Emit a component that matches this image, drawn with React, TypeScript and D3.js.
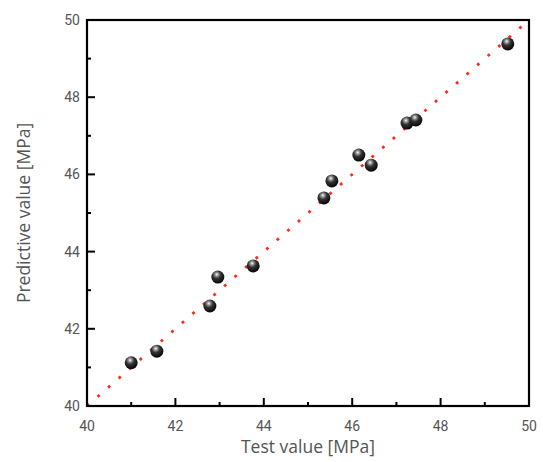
import React from "react";
import * as d3 from "d3";

// measured vs predicted strength (MPa)
const testValues = [41.0, 41.58, 42.78, 42.96, 43.76, 45.36, 45.54, 46.15, 46.43, 47.24, 47.44, 49.52];
const predValues = [41.12, 41.42, 42.59, 43.34, 43.63, 45.39, 45.83, 46.5, 46.24, 47.33, 47.41, 49.38];
const majorTicks = [40, 42, 44, 46, 48, 50];
const minorTicks = [41, 43, 45, 47, 49];

const W = 543;
const H = 462;
const margin = { top: 20, right: 14, bottom: 56, left: 87 };

const App = () => {
	const x = d3.scaleLinear().domain([40, 50]).range([margin.left, W - margin.right]);
	const y = d3.scaleLinear().domain([40, 50]).range([H - margin.bottom, margin.top]);

	const x0 = x(40), x1 = x(50), y0 = y(40), y1 = y(50);
	const fitLine = d3.line<number>().x(d => x(d)).y(d => y(d));

	const tickFont = "Roboto, 'DejaVu Sans', sans-serif";
	const titleFont = "'Open Sans', 'Noto Sans', sans-serif";

	return (
		<svg width={W} height={H} style={{ position: "absolute", left: 0, top: 0 }}>
			<defs>
				<radialGradient id="ball" cx="0.4" cy="0.3" r="0.7" fx="0.42" fy="0.3">
					<stop offset="0%" stopColor="#ffffff" />
					<stop offset="18%" stopColor="#9a9a9a" />
					<stop offset="45%" stopColor="#333333" />
					<stop offset="100%" stopColor="#050505" />
				</radialGradient>
				<clipPath id="plot">
					<rect x={x0} y={y1} width={x1 - x0} height={y0 - y1} />
				</clipPath>
			</defs>

			{/* y = x reference */}
			<path
				d={fitLine([40, 50]) || ""}
				fill="none"
				stroke="#ff2a1a"
				strokeWidth={2.8}
				strokeDasharray="2.8 11.2"
				clipPath="url(#plot)"
			/>

			{testValues.map((t, i) => (
				<circle key={i} cx={x(t)} cy={y(predValues[i])} r={6.5} fill="url(#ball)" />
			))}

			{/* frame */}
			<rect x={x0} y={y1} width={x1 - x0} height={y0 - y1} fill="none" stroke="#000" strokeWidth={2.2} />

			{majorTicks.map(v => (
				<g key={"mx" + v}>
					<line x1={x(v)} x2={x(v)} y1={y0} y2={y0 - 8} stroke="#000" strokeWidth={2} />
					<text x={x(v)} y={y0 + 25} textAnchor="middle" fontSize={14} fill="#555" fontFamily={tickFont}>{v}</text>
					<line x1={x0} x2={x0 + 8} y1={y(v)} y2={y(v)} stroke="#000" strokeWidth={2} />
					<text x={x0 - 7} y={y(v)} dy="0.35em" textAnchor="end" fontSize={14} fill="#555" fontFamily={tickFont}>{v}</text>
				</g>
			))}
			{minorTicks.map(v => (
				<g key={"mn" + v}>
					<line x1={x(v)} x2={x(v)} y1={y0} y2={y0 - 4} stroke="#000" strokeWidth={2} />
					<line x1={x0} x2={x0 + 4} y1={y(v)} y2={y(v)} stroke="#000" strokeWidth={2} />
				</g>
			))}

			<text x={(x0 + x1) / 2} y={H - 9} textAnchor="middle" fontSize={17.5} fill="#555" fontFamily={titleFont}>
				Test value [MPa]
			</text>
			<text
				transform={`translate(24,${(y0 + y1) / 2}) rotate(-90)`}
				textAnchor="middle"
				dy="0.35em"
				fontSize={17.5}
				fill="#555"
				fontFamily={titleFont}
			>
				Predictive value [MPa]
			</text>
		</svg>
	);
};

export default App;
